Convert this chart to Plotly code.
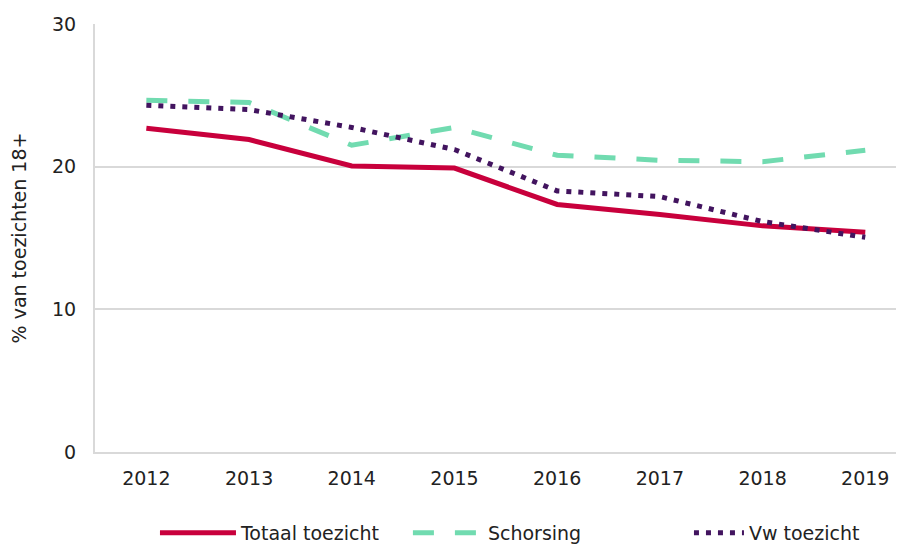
import plotly.graph_objects as go

years = ["2012", "2013", "2014", "2015", "2016", "2017", "2018", "2019"]
totaal = [22.7, 21.9, 20.05, 19.9, 17.35, 16.65, 15.85, 15.4]
schorsing = [24.65, 24.5, 21.5, 22.75, 20.8, 20.45, 20.35, 21.15]
vw = [24.3, 24.0, 22.75, 21.2, 18.3, 17.9, 16.15, 15.05]

fig = go.Figure()
fig.add_trace(go.Scatter(x=years, y=totaal, mode="lines", name="Totaal toezicht",
                         legend="legend",
                         line=dict(color="#c8003c", width=5)))
fig.add_trace(go.Scatter(x=years, y=schorsing, mode="lines", name="Schorsing",
                         legend="legend2",
                         line=dict(color="#71dbb0", width=5, dash="21px,21px")))
fig.add_trace(go.Scatter(x=years, y=vw, mode="lines", name="Vw toezicht",
                         legend="legend3",
                         line=dict(color="#42145f", width=5, dash="5px,7px")))

leg_common = dict(orientation="h", xanchor="left",
                  y=-0.146, yanchor="top", font=dict(size=19),
                  bgcolor="rgba(0,0,0,0)")

fig.update_layout(
    width=904, height=544,
    margin=dict(l=87, r=0, t=16, b=96),
    paper_bgcolor="white", plot_bgcolor="white",
    font=dict(family="DejaVu Sans, Verdana, sans-serif", size=19, color="#222222"),
    showlegend=True,
    legend=dict(x=0.0734, itemwidth=76, **leg_common),
    legend2=dict(x=0.383, itemwidth=70, **leg_common),
    legend3=dict(x=0.727, itemwidth=50, **leg_common),
    xaxis=dict(type="category", range=[-0.5, 7.455], showgrid=False, automargin=False,
               showline=True, linecolor="#d9d9d9", linewidth=2, tickangle=0,
               ticks="", tickfont=dict(size=19), ticklabelstandoff=8),
    yaxis=dict(range=[0, 30], tickvals=[0, 10, 20, 30], showgrid=True, automargin=False,
               gridcolor="#d9d9d9", gridwidth=2, zeroline=False,
               showline=True, linecolor="#d9d9d9", linewidth=2,
               ticks="", tickfont=dict(size=19), ticklabelstandoff=13,
               title=dict(text="% van toezichten 18+", font=dict(size=19), standoff=21)),
)

fig.write_html("out.html")
